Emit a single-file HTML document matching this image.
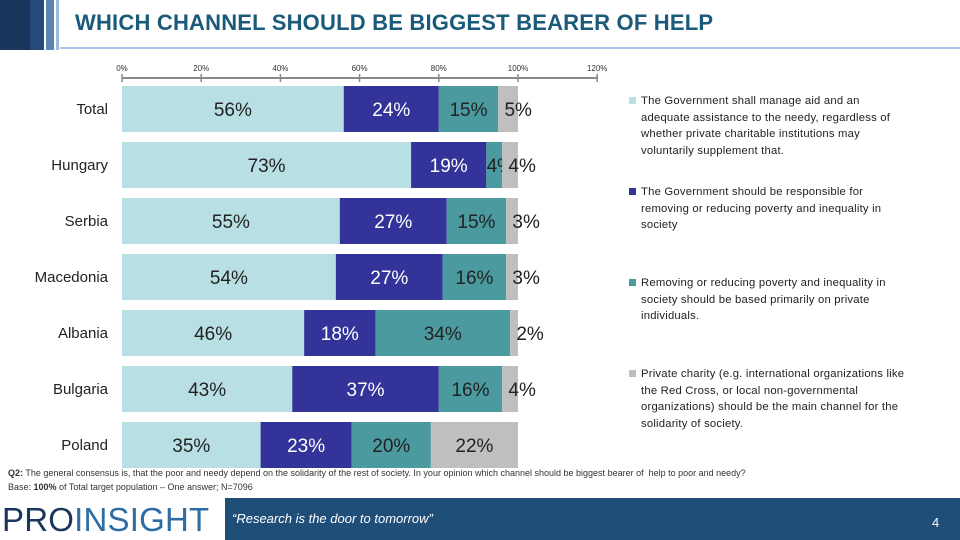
<!DOCTYPE html>
<html><head><meta charset="utf-8"><style>
body{margin:0;width:960px;height:540px;overflow:hidden;background:#fff;font-family:"Liberation Sans",sans-serif;position:relative}
.lg{position:absolute;left:641px;width:310px;font-size:11.3px;line-height:16.5px;color:#222;letter-spacing:0.2px;white-space:nowrap}
.sq{position:absolute;left:-12px;top:4px;width:7px;height:7px}
</style></head><body>
<div style="position:absolute;left:0;top:0;width:30px;height:50px;background:#1b365d"></div>
<div style="position:absolute;left:30px;top:0;width:14px;height:50px;background:#24497a"></div>
<div style="position:absolute;left:46px;top:0;width:8px;height:50px;background:#5b84b8"></div>
<div style="position:absolute;left:56px;top:0;width:3px;height:50px;background:#9dbbe0"></div>
<div style="position:absolute;left:75px;top:10px;font-size:22px;font-weight:bold;color:#1a5a7a;letter-spacing:0.2px">WHICH CHANNEL SHOULD BE BIGGEST BEARER OF HELP</div>
<div style="position:absolute;left:60px;top:47px;width:900px;height:2px;background:#a9c6e8"></div>
<svg id="chart" width="960" height="540" style="position:absolute;left:0;top:0"></svg>
<div class="lg" style="top:93px"><span class="sq" style="background:#b8dfe3"></span>The Government shall manage aid and an<br>adequate assistance to the needy, regardless of<br>whether private charitable institutions may<br>voluntarily supplement that.</div>
<div class="lg" style="top:184px"><span class="sq" style="background:#33339a"></span>The Government should be responsible for<br>removing or reducing poverty and inequality in<br>society</div>
<div class="lg" style="top:275px"><span class="sq" style="background:#4a9a9f"></span>Removing or reducing poverty and inequality in<br>society should be based primarily on private<br>individuals.</div>
<div class="lg" style="top:366px"><span class="sq" style="background:#bfbfbf"></span>Private charity (e.g. international organizations like<br>the Red Cross, or local non-governmental<br>organizations) should be the main channel for the<br>solidarity of society.</div>
<div style="position:absolute;left:8px;top:466px;font-size:9px;color:#333;line-height:14px"><b>Q2:</b> The general consensus is, that the poor and needy depend on the solidarity of the rest of society. In your opinion which channel should be biggest bearer of &nbsp;help to poor and needy?<br>Base: <b>100%</b> of Total target population – One answer; N=7096</div>
<div style="position:absolute;left:2px;top:500px;font-size:33px;color:#1b365d;letter-spacing:0.2px;line-height:40px">PRO<span style="color:#2d6da3;font-weight:normal">INSIGHT</span></div>
<div style="position:absolute;left:225px;top:498px;width:735px;height:42px;background:#1f4e79"></div>
<div style="position:absolute;left:232px;top:511px;font-size:13px;font-style:italic;color:#fff">“Research is the door to tomorrow”</div>
<div style="position:absolute;left:932px;top:515px;font-size:13px;color:#fff">4</div>
<script>
const categories=["Total","Hungary","Serbia","Macedonia","Albania","Bulgaria","Poland"];
const govManage=[56,73,55,54,46,43,35];
const govResponsible=[24,19,27,27,18,37,23];
const privateIndividuals=[15,4,15,16,34,16,20];
const privateCharity=[5,4,3,3,2,4,22];
const ticks=[0,20,40,60,80,100,120];
const series=[govManage,govResponsible,privateIndividuals,privateCharity];
const colors=["#b8dfe3","#33339a","#4a9a9f","#bfbfbf"];
const textColors=["#222","#fff","#222","#222"];
const svg=document.getElementById('chart');const NS="http://www.w3.org/2000/svg";
const x=v=>122+v*3.96;const y=i=>86+i*56;const bh=46;
function mk(t,a){const e=document.createElementNS(NS,t);for(const k in a)e.setAttribute(k,a[k]);svg.appendChild(e);return e;}
const ax=mk('line',{x1:x(0),x2:x(120),y1:78,y2:78,stroke:'#888','stroke-width':2});


ticks.forEach(t=>{
const l=mk('line',{x1:x(t),x2:x(t),y1:74,y2:82,stroke:'#888','stroke-width':1.5});


const tx=mk('text',{x:x(t),y:71,'text-anchor':'middle','font-size':8,fill:'#333'});tx.textContent=t+'%';


});
categories.forEach((c,i)=>{
const t=mk('text',{x:108,y:y(i)+bh/2+5,'text-anchor':'end','font-size':15,fill:'#222'});t.textContent=c;


let acc=0;
series.forEach((s,j)=>{
const v=s[i];
const r=mk('rect',{x:x(acc),y:y(i),width:x(acc+v)-x(acc),height:bh,fill:colors[j]});


let cx=(x(acc)+x(acc+v))/2;if(v<6)cx=x(acc)+14+(j==3?6:0);
const lt=mk('text',{x:cx,y:y(i)+bh/2+7,'text-anchor':'middle','font-size':19,fill:v<6&&j==2?'#222':textColors[j]});lt.textContent=v+'%';


acc+=v;});
});
</script>
</body></html>
